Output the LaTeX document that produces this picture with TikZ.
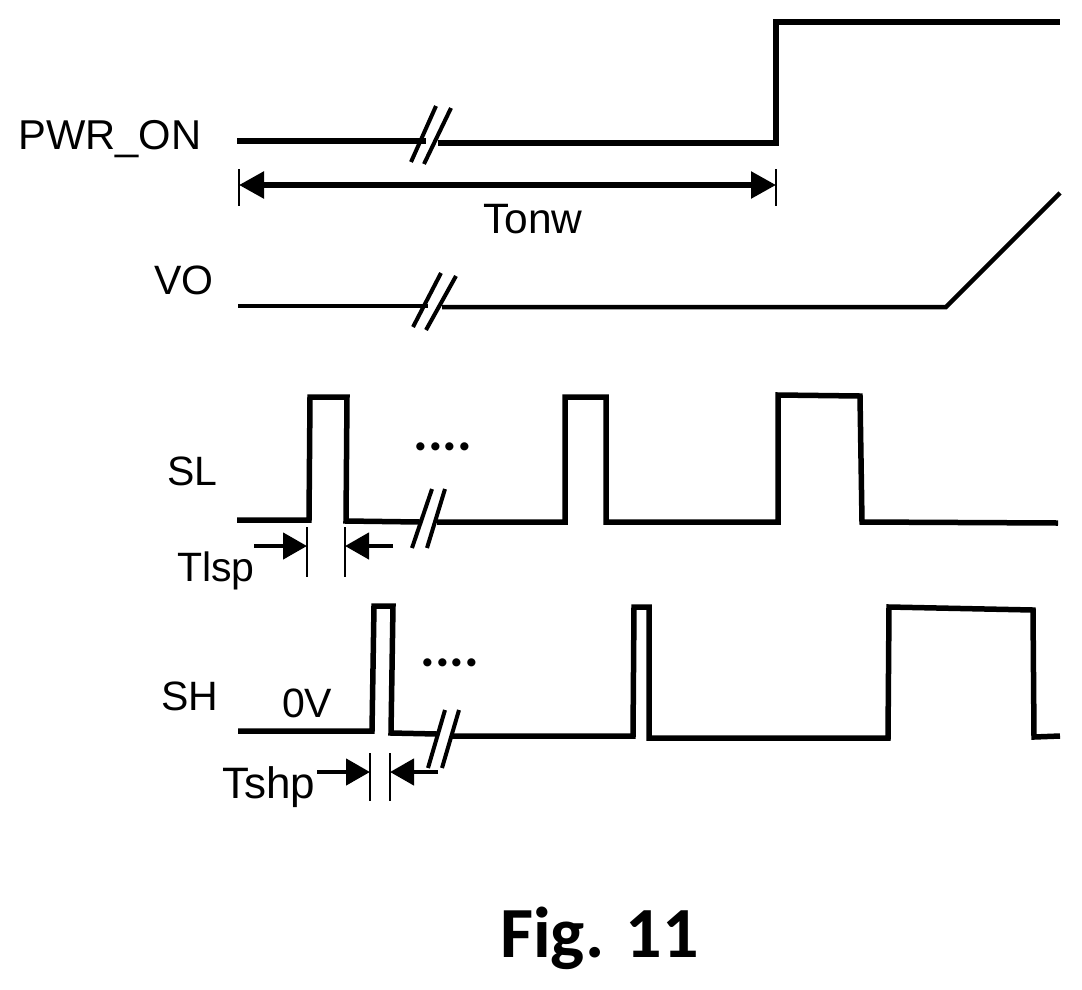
\documentclass[tikz,border=0pt]{standalone}
\usepackage{fontspec}
\setmainfont{Liberation Sans}
\newfontfamily\figfont{Carlito}
\usetikzlibrary{arrows.meta}

\begin{document}
\begin{tikzpicture}[
    x=1pt, y=-1pt,
    % Styles
    wave/.style={% For the signal traces
        line width=5.5pt,
        },
    wavethin/.style={% For the VO trace
        line width=4.5pt,
        },
    slash/.style={% For the broken axis marks
        line width=4pt,
        },
    tick/.style={% For the limits of a time span
        line width=2.5pt,
        },
    ArrowD1/.style={% Arrows pointing at a limit
        line width=4.5pt,
        -{Triangle[length=24pt, width=26pt]},
        },
    ArrowD2/.style={% Arrow with a tip on both ends
        line width=5.5pt,
        {Triangle[length=25pt, width=26pt]}-{Triangle[length=25pt, width=26pt]},
        },
    label/.style={% For the names
        inner sep=0pt,
        anchor=base west,
        font=\fontsize{41}{41}\selectfont,
        },
    dots/.style={% For the four dots
        inner sep=0pt,
        anchor=base,
        font=\fontsize{55}{55}\selectfont\figfont\bfseries,
        },
    ]
% Define a macro for the two slashes of a break
\newcommand{\BreakMark}[4]{
    \draw [slash] #1 -- #2;
    \draw [slash] #3 -- #4;
}
\useasboundingbox (0,0) rectangle (1082,989);

% Names
\node [label, font=\fontsize{41.7}{41.7}\selectfont] (pwr) at (18,149) {PWR\_ON};
\node [label] (vo) at (154,294) {VO};
\node [label] (sl) at (167,485) {SL};
\node [label] (sh) at (161,710) {SH};
\node [label, font=\fontsize{42.5}{42.5}\selectfont] (tonw) at (483,233) {Tonw};
\node [label] (tlsp) at (177,581) {Tlsp};
\node [label, font=\fontsize{44}{44}\selectfont] (tshp) at (222,798) {Tshp};
\node [label] (zero) at (282,717) {0V};
\node [dots] (dots1) at (443,450) {....};
\node [dots] (dots2) at (450,666) {....};
\node [inner sep=0pt, anchor=base west, font=\fontsize{72}{72}\selectfont\figfont\bfseries] (fig) at (500,957) {Fig. 11};

% PWR_ON
\draw [wave] (237,141) -- (426,141);
\draw [wave] (438,143) -- (776,143) -- (776,22) -- (1060,22);
\BreakMark{(411,162)}{(436,106)}{(424,164)}{(451,108)}

% Tonw
\coordinate (t1) at (239,185);
\coordinate (t2) at (776,185);
\draw [tick] (239,169) -- (239,206);
\draw [tick] (776,169) -- (776,206);
\draw [ArrowD2] (t1) -- (t2);

% VO
\draw [wavethin] (238,306) -- (428,306);
\draw [wavethin] (442,307) -- (946,307) -- (1060,193);
\BreakMark{(413,327)}{(441,273)}{(426,330)}{(456,276)}

% SL
\draw [wave] (237,520) -- (309,520) -- (310,397) -- (347,397) -- (346,521) -- (420,522);
\draw [wave] (437,522) -- (565,522) -- (565,397) -- (606,397) -- (606,522) -- (778,522)
    -- (778,395) -- (860,396) -- (862,522) -- (1058,523);
\BreakMark{(412,548)}{(432,489)}{(427,548)}{(445,489)}

% Tlsp
\coordinate (l1) at (307,546);
\coordinate (l2) at (345,546);
\coordinate (l3) at (254,546);
\coordinate (l4) at (393,546);
\draw [tick] (307,527) -- (307,577);
\draw [tick] (345,527) -- (345,577);
\draw [ArrowD1] (l3) -- (l1);
\draw [ArrowD1] (l4) -- (l2);

% SH
\draw [wave] (238,731) -- (372,731) -- (374,606) -- (393,606) -- (391,733) -- (437,734);
\draw [wave] (452,736) -- (633,736) -- (634,607) -- (649,607) -- (649,738) -- (888,738)
    -- (889,607) -- (1033,610) -- (1034,737) -- (1060,736);
\BreakMark{(428,768)}{(445,710)}{(442,768)}{(459,710)}

% Tshp
\coordinate (s1) at (370,772);
\coordinate (s2) at (390,772);
\coordinate (s3) at (317,772);
\coordinate (s4) at (438,772);
\draw [tick] (370,753) -- (370,801);
\draw [tick] (390,753) -- (390,801);
\draw [ArrowD1] (s3) -- (s1);
\draw [ArrowD1] (s4) -- (s2);

\end{tikzpicture}
\end{document}
